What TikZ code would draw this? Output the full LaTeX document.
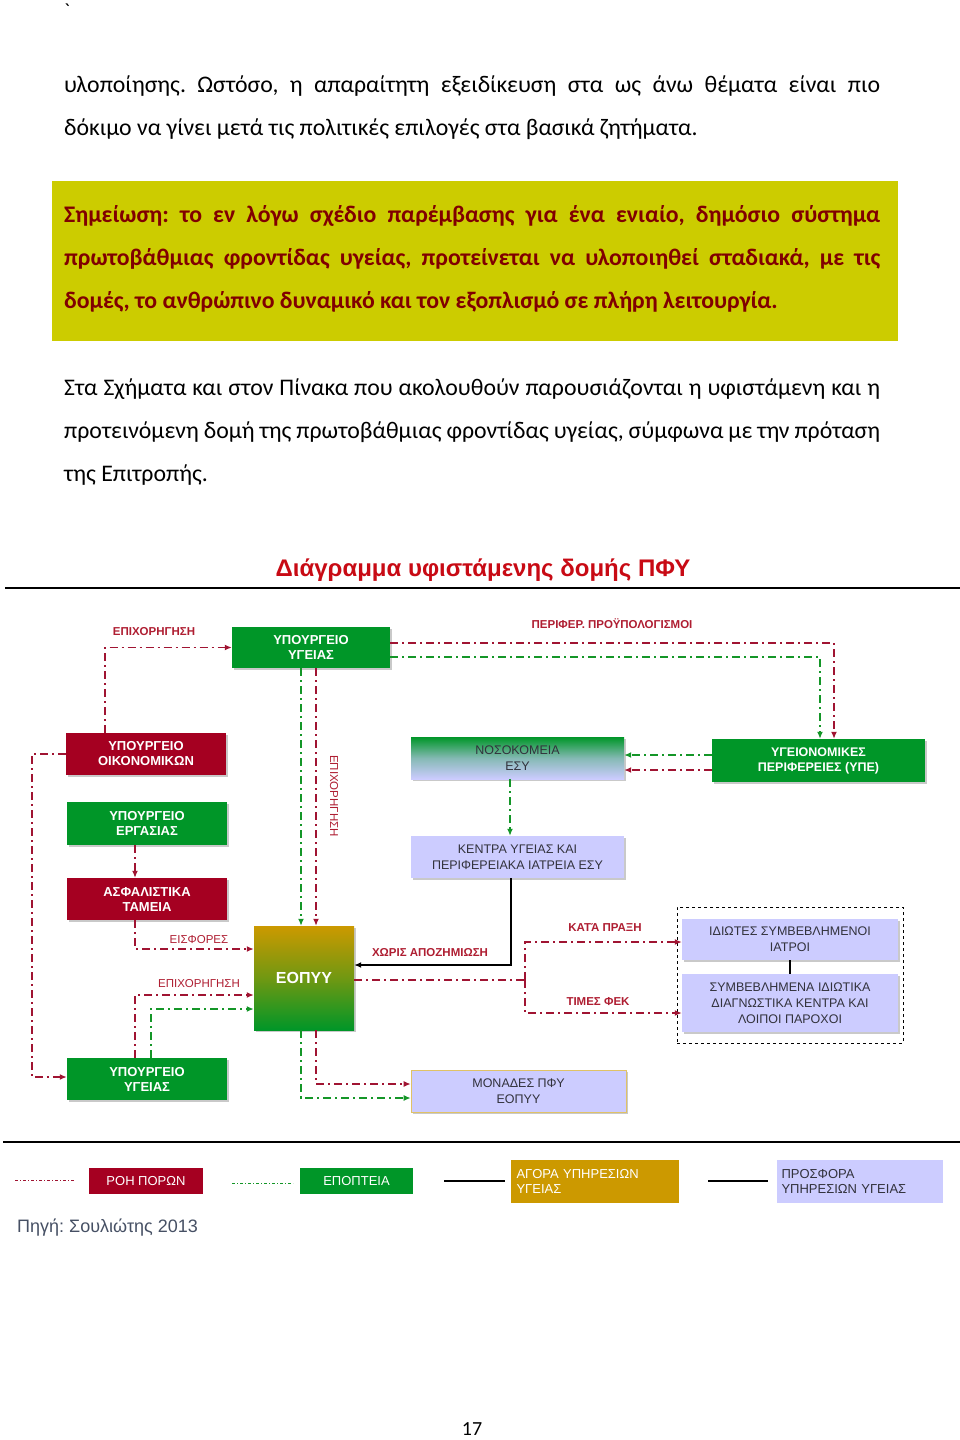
\documentclass[tikz,border=0pt]{standalone}
\usepackage{fontspec}
\setmainfont{Carlito}
\newfontfamily\arial{Liberation Sans}
\usetikzlibrary{arrows.meta,shadows}
\frenchspacing
\definecolor{gbox}{RGB}{0,150,40}
\definecolor{rbox}{RGB}{165,0,33}
\definecolor{goldc}{RGB}{204,153,0}
\definecolor{lav}{RGB}{204,204,255}
\definecolor{rline}{RGB}{160,20,50}
\definecolor{gline}{RGB}{20,150,40}
\definecolor{lbl}{RGB}{175,30,50}
\definecolor{notebg}{RGB}{204,204,0}
\definecolor{notetx}{RGB}{128,0,0}
\definecolor{titlered}{RGB}{200,10,20}
\definecolor{boxtxt}{RGB}{50,50,60}
\definecolor{srcgray}{RGB}{70,80,100}
\begin{document}
\frenchspacing
\begin{tikzpicture}[x=1pt,y=-1pt,
  bodytext/.style={anchor=base west, inner sep=0, font=\fontsize{23.8}{28}\selectfont\frenchspacing},
  notetext/.style={anchor=base west, inner sep=0, text=notetx, font=\bfseries\fontsize{23.8}{28}\selectfont\frenchspacing},
  boxshadow/.style={drop shadow={shadow xshift=1.5pt,shadow yshift=-1.5pt,opacity=0.35,fill=black!60}},
  gbx/.style={fill=gbox, text=white, font=\arial\bfseries\fontsize{13}{15}\selectfont, align=center, inner sep=0, boxshadow},
  rbx/.style={fill=rbox, text=white, font=\arial\bfseries\fontsize{13}{15}\selectfont, align=center, inner sep=0, boxshadow},
  lbx/.style={fill=lav, text=boxtxt, font=\arial\fontsize{12.5}{16}\selectfont, align=center, inner sep=0, boxshadow},
  lab/.style={text=lbl, font=\arial\bfseries\fontsize{11.5}{13}\selectfont, inner sep=0},
  redflow/.style={draw=rline, line width=1.8pt, dash pattern=on 8pt off 4pt on 2pt off 4pt},
  greenflow/.style={draw=gline, line width=1.8pt, dash pattern=on 8pt off 4pt on 2pt off 4pt},
  tipr/.style={-{Latex[length=7pt,width=6pt]}},
  legtext/.style={font=\arial\fontsize{13}{15}\selectfont, inner sep=0}
]
\useasboundingbox (0,0) rectangle (960,1440);
\fill[white] (0,0) rectangle (960,1440);

% ---------- page text ----------
\node[anchor=base west, inner sep=0, font=\fontsize{20}{24}\selectfont] (bq) at (64,17) {\textasciigrave};

\node[bodytext] (p1a) at (64,92) {\makebox[816pt][s]{υλοποίησης. Ωστόσο, η απαραίτητη εξειδίκευση στα ως άνω θέματα είναι πιο}};
\node[bodytext] (p1b) at (64,135) {δόκιμο να γίνει μετά τις πολιτικές επιλογές στα βασικά ζητήματα.};

\node[fill=notebg, minimum width=846pt, minimum height=160pt, anchor=north west, inner sep=0] (note) at (52,181) {};
\node[notetext] (n1) at (64,222) {\makebox[816pt][s]{Σημείωση: το εν λόγω σχέδιο παρέμβασης για ένα ενιαίο, δημόσιο σύστημα}};
\node[notetext] (n2) at (64,265) {\makebox[816pt][s]{πρωτοβάθμιας φροντίδας υγείας, προτείνεται να υλοποιηθεί σταδιακά, με τις}};
\node[notetext] (n3) at (64,308) {δομές, το ανθρώπινο δυναμικό και τον εξοπλισμό σε πλήρη λειτουργία.};

\node[bodytext] (p2a) at (64,395) {\makebox[816pt][s]{Στα Σχήματα και στον Πίνακα που ακολουθούν παρουσιάζονται η υφιστάμενη και η}};
\node[bodytext] (p2b) at (64,438) {\makebox[816pt][s]{προτεινόμενη δομή της πρωτοβάθμιας φροντίδας υγείας, σύμφωνα με την πρόταση}};
\node[bodytext] (p2c) at (64,481) {της Επιτροπής.};

% ---------- title and rules ----------
\node[anchor=base, inner sep=0, text=titlered, font=\arial\bfseries\fontsize{24}{28}\selectfont] (title) at (483,576) {Διάγραμμα υφιστάμενης δομής ΠΦΥ};
\coordinate (r1a) at (5,588); \coordinate (r1b) at (960,588);
\coordinate (r2a) at (3,1142); \coordinate (r2b) at (960,1142);
\draw[line width=1.3pt] (r1a) -- (r1b);
\draw[line width=1.3pt] (r2a) -- (r2b);

% ---------- boxes ----------
\node[gbx, minimum width=158pt, minimum height=41pt] (YY1) at (311,647.5) {ΥΠΟΥΡΓΕΙΟ\\ΥΓΕΙΑΣ};
\node[rbx, minimum width=160pt, minimum height=42pt] (OIK) at (146,754) {ΥΠΟΥΡΓΕΙΟ\\ΟΙΚΟΝΟΜΙΚΩΝ};
\node[gbx, minimum width=160pt, minimum height=43pt] (ERG) at (147,823.5) {ΥΠΟΥΡΓΕΙΟ\\ΕΡΓΑΣΙΑΣ};
\node[rbx, minimum width=160pt, minimum height=42pt] (ASF) at (147,899) {ΑΣΦΑΛΙΣΤΙΚΑ\\ΤΑΜΕΙΑ};
\node[gbx, minimum width=160pt, minimum height=42pt] (YY2) at (147,1079) {ΥΠΟΥΡΓΕΙΟ\\ΥΓΕΙΑΣ};
\node[gbx, top color=goldc, bottom color=gbox, middle color={goldc!55!gbox}, font=\arial\bfseries\fontsize{16}{18}\selectfont, minimum width=100pt, minimum height=104pt] (EOP) at (304,978) {ΕΟΠΥΥ};
\node[lbx, top color=gbox, bottom color=lav, middle color={lav!65!gbox}, minimum width=213pt, minimum height=42pt] (NOS) at (517.5,758) {ΝΟΣΟΚΟΜΕΙΑ\\ΕΣΥ};
\node[lbx, minimum width=213pt, minimum height=42pt] (KEN) at (517.5,857) {ΚΕΝΤΡΑ ΥΓΕΙΑΣ ΚΑΙ\\ΠΕΡΙΦΕΡΕΙΑΚΑ ΙΑΤΡΕΙΑ ΕΣΥ};
\node[gbx, font=\arial\bfseries\fontsize{12.5}{15}\selectfont, minimum width=213pt, minimum height=43pt] (YPE) at (818.5,760.5) {ΥΓΕΙΟΝΟΜΙΚΕΣ\\ΠΕΡΙΦΕΡΕΙΕΣ (ΥΠΕ)};
\node[draw=black, dashed, line width=1pt, minimum width=226pt, minimum height=136pt, inner sep=0] (GRP) at (790,975) {};
\node[lbx, minimum width=216pt, minimum height=41pt] (IDI) at (790,939.5) {ΙΔΙΩΤΕΣ ΣΥΜΒΕΒΛΗΜΕΝΟΙ\\ΙΑΤΡΟΙ};
\node[lbx, minimum width=216pt, minimum height=58pt] (SYM) at (790,1003) {ΣΥΜΒΕΒΛΗΜΕΝΑ ΙΔΙΩΤΙΚΑ\\ΔΙΑΓΝΩΣΤΙΚΑ ΚΕΝΤΡΑ ΚΑΙ\\ΛΟΙΠΟΙ ΠΑΡΟΧΟΙ};
\node[lbx, draw=goldc!60, line width=0.6pt, minimum width=215pt, minimum height=42pt] (MON) at (518.5,1091) {ΜΟΝΑΔΕΣ ΠΦΥ\\ΕΟΠΥΥ};

% ---------- connectors ----------
\draw[redflow, tipr] ([xshift=-41pt]OIK.north) |- (YY1.west);
\node[lab] (l1) at (154,632) {ΕΠΙΧΟΡΗΓΗΣΗ};

\draw[redflow, tipr] ([yshift=4.5pt]YY1.east) -| ([xshift=15.5pt]YPE.north);
\draw[greenflow, tipr] ([yshift=-9.5pt]YY1.east) -| ([xshift=1.5pt]YPE.north);
\node[lab] (l2) at (612,624) {ΠΕΡΙΦΕΡ. ΠΡΟΫΠΟΛΟΓΙΣΜΟΙ};

\draw[greenflow, tipr] ([xshift=-10pt]YY1.south) -- ([xshift=-3pt]EOP.north);
\draw[redflow, tipr] ([xshift=5pt]YY1.south) -- ([xshift=12pt]EOP.north);
\node[text=lbl, font=\arial\fontsize{11.5}{13}\selectfont, inner sep=0, rotate=-90] (l3) at (334,796) {ΕΠΙΧΟΡΗΓΗΣΗ};

\draw[redflow, tipr] (OIK.west) -- ++(-34,0) |- ([yshift=2pt]YY2.west);

\draw[redflow, tipr] ([xshift=-12pt]ERG.south) -- ([xshift=-12pt]ASF.north);

\draw[redflow, tipr] ([xshift=-12pt]ASF.south) |- ([yshift=29pt]EOP.west);
\node[lab, font=\arial\fontsize{11.5}{13}\selectfont] (l4) at (199,940) {ΕΙΣΦΟΡΕΣ};

\draw[redflow, tipr] ([xshift=-12pt]YY2.north) |- ([yshift=-17pt]EOP.west);
\draw[greenflow, tipr] ([xshift=4pt]YY2.north) |- ([yshift=-31pt]EOP.west);
\node[lab, font=\arial\fontsize{11.5}{13}\selectfont] (l5) at (199,984) {ΕΠΙΧΟΡΗΓΗΣΗ};

\draw[greenflow, tipr] ([xshift=-7.5pt]NOS.south) -- ([xshift=-7.5pt]KEN.north);

\draw[greenflow, tipr] ([yshift=5.5pt]YPE.west) -- ([yshift=5.5pt]YPE.west -| NOS.east);
\draw[redflow, tipr] ([yshift=-9.5pt]YPE.west) -- ([yshift=-9.5pt]YPE.west -| NOS.east);

\draw[line width=1.4pt, tipr] ([xshift=-6.5pt]KEN.south) |- ([yshift=13pt]EOP.east);
\node[lab] (l6) at (430,953) {ΧΩΡΙΣ ΑΠΟΖΗΜΙΩΣΗ};

\coordinate (br) at (525,980);
\draw[redflow] ([yshift=-2pt]EOP.east) -- (br);
\draw[redflow, tipr] (br) |- ([yshift=-2.5pt]IDI.west);
\draw[redflow, tipr] (br) |- ([yshift=-10pt]SYM.west);
\node[lab] (l7) at (605,928) {ΚΑΤΆ ΠΡΑΞΗ};
\node[lab] (l8) at (598,1002) {ΤΙΜΕΣ ΦΕΚ};

\draw[redflow, tipr] ([xshift=12pt]EOP.south) |- ([yshift=7pt]MON.west);
\draw[greenflow, tipr] ([xshift=-3pt]EOP.south) |- ([yshift=-7pt]MON.west);

\draw[line width=1.4pt] (IDI.south) -- (SYM.north);

% ---------- legend ----------
\coordinate (g1a) at (15,1180); \coordinate (g1b) at (75,1180);
\draw[draw=rline, line width=0.9pt, dash pattern=on 3pt off 2pt on 1pt off 2pt] (g1a) -- (g1b);
\node[legtext, fill=rbox, text=white, minimum width=114pt, minimum height=26pt] (LR) at (146,1181) {ΡΟΗ ΠΟΡΩΝ};
\coordinate (g2a) at (232,1183); \coordinate (g2b) at (293,1183);
\draw[draw=gline, line width=0.9pt, dash pattern=on 3pt off 2pt on 1pt off 2pt] (g2a) -- (g2b);
\node[legtext, fill=gbox, text=white, minimum width=113pt, minimum height=26pt] (LG) at (356.5,1181) {ΕΠΟΠΤΕΙΑ};
\coordinate (g3a) at (444,1181); \coordinate (g3b) at (505,1181);
\draw[line width=1.2pt] (g3a) -- (g3b);
\node[legtext, fill=goldc, text=white, minimum width=168pt, minimum height=43pt, align=left, text width=157pt] (LA) at (595,1181.5) {ΑΓΟΡΑ ΥΠΗΡΕΣΙΩΝ\\ΥΓΕΙΑΣ};
\coordinate (g4a) at (708,1181); \coordinate (g4b) at (768,1181);
\draw[line width=1.2pt] (g4a) -- (g4b);
\node[legtext, fill=lav, text=boxtxt, minimum width=166pt, minimum height=43pt, align=left, text width=157pt] (LP) at (860,1181.5) {ΠΡΟΣΦΟΡΑ\\ΥΠΗΡΕΣΙΩΝ ΥΓΕΙΑΣ};

\node[anchor=base west, inner sep=0, text=srcgray, font=\arial\fontsize{18}{22}\selectfont\frenchspacing] (src) at (17,1232) {Πηγή: Σουλιώτης 2013};

\node[anchor=base, inner sep=0, font=\fontsize{20}{24}\selectfont] (pg) at (472,1435) {17};
\end{tikzpicture}
\end{document}
